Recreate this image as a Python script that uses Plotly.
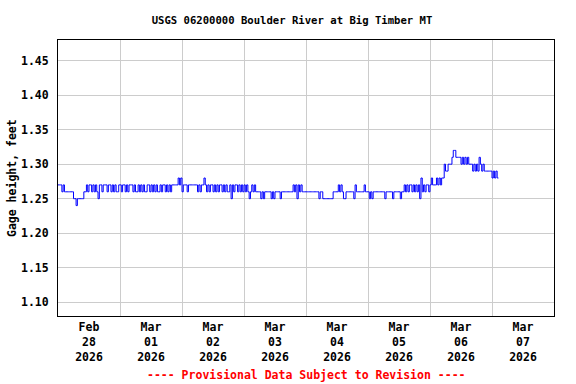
import plotly.graph_objects as go
import pandas as pd

# Gage height readings (hundredths of a foot), 30-minute intervals, one list per day
feb28 = [127, 127, 127, 126, 127,
         126, 126, 126, 126, 126, 126, 126,
         125, 125, 124, 125, 125, 125, 125, 125,
         126, 126,
         127, 126, 127, 127, 126, 127, 126, 127, 126, 125,
         127, 127, 126, 127, 127, 127, 126, 127, 127, 126,
         127, 126, 127, 126, 126, 127]
mar01 = [127, 126, 127, 127, 126, 127, 126, 127, 127, 127,
         126, 127, 126, 126, 127, 126, 127, 126, 127, 126,
         126, 127, 127, 126, 127, 126, 127, 126, 127, 126,
         126, 127, 126, 127, 127, 126, 127, 126, 127, 126,
         127, 127, 127, 127, 127, 128, 127, 128]
mar02 = [126, 127, 127, 127, 126, 127, 127, 127, 127, 127,
         127, 127, 126, 127, 126, 127, 127, 128, 127,
         126, 127, 126, 127, 127, 126, 127, 126, 127, 126,
         127, 127, 126, 127, 126, 127, 126, 126, 127,
         125, 127, 126, 127, 127, 126, 127, 126, 127, 126]
mar03 = [127, 126, 127, 126, 125, 126, 127, 126, 127, 126,
         126, 126, 126, 125, 126, 125, 126, 126, 126, 126,
         126, 125, 126, 125, 126, 126, 126, 126, 125,
         126, 126, 126, 126, 126, 126, 126, 126, 126,
         127, 126, 127, 125, 127, 126, 127, 126, 126, 126]
mar04 = [126, 126, 126, 126, 126, 126, 126, 126, 126, 126,
         125, 126, 126,
         125, 125, 125, 125, 125, 125, 125, 125,
         126, 126, 126, 126,
         127, 126, 127, 126, 125, 125,
         126, 126, 126, 126, 126, 126, 125, 127,
         126, 126, 126, 126, 126, 126, 127, 126, 126]
mar05 = [126, 125, 126, 125, 126,
         126, 126, 126, 126, 126, 126, 126, 126,
         125, 126, 126, 126, 126, 126, 125,
         126, 126, 126, 126, 126, 125, 126, 126,
         127, 126, 127, 126, 127, 127, 126, 127, 126, 127,
         126, 127, 125, 128, 126, 127, 126, 127, 127, 126]
mar06 = [127, 128, 127, 127, 127, 128, 127, 128, 127, 128,
         128, 130, 129, 129, 130, 130, 130, 131, 132, 132,
         131, 131, 131, 131, 130, 131, 130, 131, 130, 131,
         130, 130, 130, 129, 130, 129, 130, 129, 131, 130,
         129, 130, 129, 129, 129, 129, 129, 129]
mar07 = [128, 129, 128, 129, 128, 128]

day_starts = ["2026-02-28", "2026-03-01", "2026-03-02", "2026-03-03",
              "2026-03-04", "2026-03-05", "2026-03-06", "2026-03-07"]
day_values = [feb28, mar01, mar02, mar03, mar04, mar05, mar06, mar07]

title_text = "USGS 06200000 Boulder River at Big Timber MT"
y_title = "Gage height, feet"
footer = "---- Provisional Data Subject to Revision ----"

times, heights = [], []
for start, vals in zip(day_starts, day_values):
    t = pd.date_range(start, periods=len(vals), freq="30min")
    times.extend(t)
    heights.extend(v / 100 for v in vals)

FONT = "DejaVu Sans Mono"
L, R, T, B = 58, 22, 40, 68
PW, PH = 576 - L - R, 384 - T - B

fig = go.Figure()
fig.add_trace(go.Scatter(x=times, y=heights, mode="lines", line_shape="hv",
                         line=dict(color="#0000ff", width=1), hoverinfo="skip"))

fig.update_layout(
    width=576, height=384,
    margin=dict(l=L, r=R, t=T, b=B, autoexpand=False),
    paper_bgcolor="white", plot_bgcolor="white",
    showlegend=False,
    font=dict(family=FONT, size=11, color="black"),
    title=dict(text=title_text, x=292 / 576, xanchor="center", xref="container",
               y=1 - 20 / 384, yanchor="middle", automargin=False,
               font=dict(family=FONT, size=10.6, color="black", weight="bold")),
    annotations=[
        dict(text=footer, xref="paper", yref="paper", x=0.5,
             y=-(375 - (384 - B)) / PH, xanchor="center", yanchor="middle",
             showarrow=False,
             font=dict(family=FONT, size=11.5, color="#ff0000", weight="bold")),
        dict(text=y_title, xref="paper", yref="paper", x=-(L - 12) / PW,
             y=0.5, xanchor="center", yanchor="middle", textangle=-90,
             showarrow=False,
             font=dict(family=FONT, size=11.5, color="black", weight="bold")),
    ],
)
fig.update_xaxes(
    type="date", range=["2026-02-28", "2026-03-08"], automargin=False,
    tick0="2026-02-28", dtick=86400000, ticklabelmode="period",
    tickformat="%b<br>%d<br>%Y", ticks="",
    tickfont=dict(family=FONT, size=11.5, weight="bold"),
    showgrid=True, gridcolor="#cccccc", gridwidth=1,
    showline=True, linecolor="black", linewidth=1, mirror=True, zeroline=False,
)
fig.update_yaxes(
    range=[1.08, 1.48], tick0=1.10, dtick=0.05, tickformat=".2f", ticks="",
    ticklabelstandoff=6, automargin=False,
    tickfont=dict(family=FONT, size=11.5, weight="bold"),
    showgrid=True, gridcolor="#cccccc", gridwidth=1,
    showline=True, linecolor="black", linewidth=1, mirror=True, zeroline=False,
)

fig.write_html("out.html", config={"displayModeBar": False},
               post_script="document.body.style.margin='0';document.body.style.padding='0';")
